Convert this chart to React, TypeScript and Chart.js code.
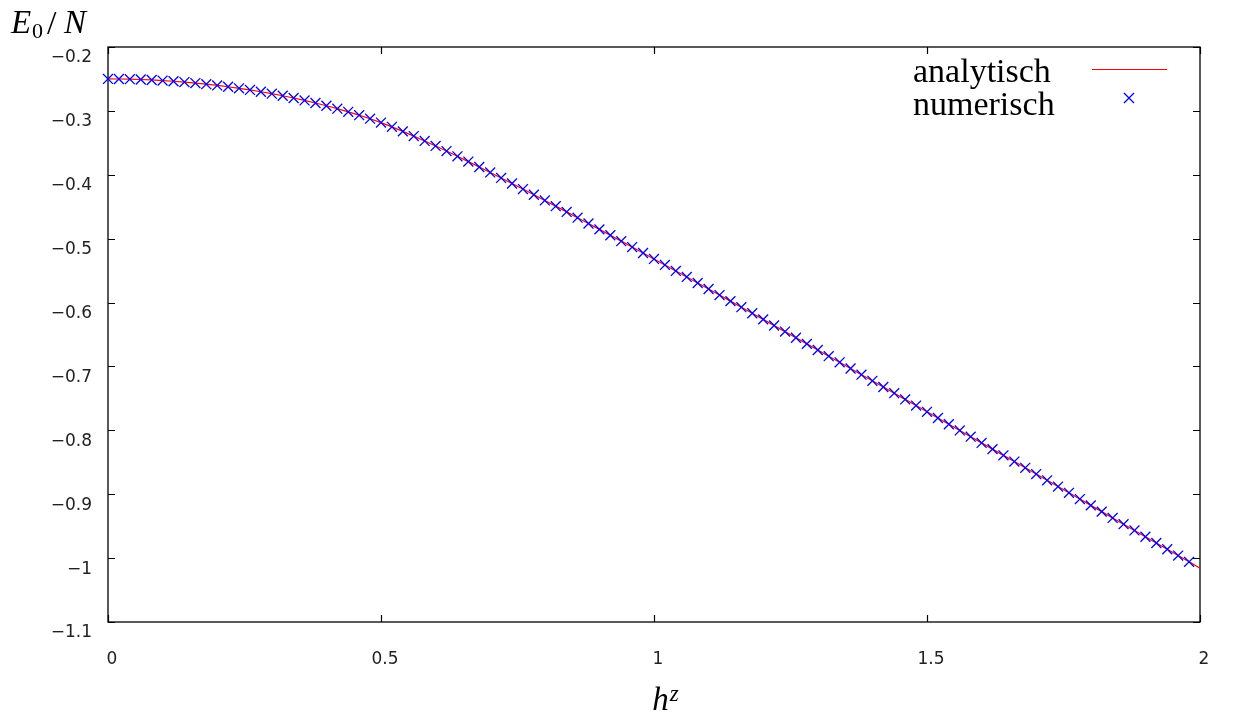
import React, { useEffect, useRef } from "react";
import { Chart, registerables } from "chart.js";

Chart.register(...registerables);

// transverse field h^z sampled in steps of 0.02
const hValues = [
  0.0, 0.02, 0.04, 0.06, 0.08, 0.1, 0.12, 0.14, 0.16, 0.18,
  0.2, 0.22, 0.24, 0.26, 0.28, 0.3, 0.32, 0.34, 0.36, 0.38,
  0.4, 0.42, 0.44, 0.46, 0.48, 0.5, 0.52, 0.54, 0.56, 0.58,
  0.6, 0.62, 0.64, 0.66, 0.68, 0.7, 0.72, 0.74, 0.76, 0.78,
  0.8, 0.82, 0.84, 0.86, 0.88, 0.9, 0.92, 0.94, 0.96, 0.98,
  1.0, 1.02, 1.04, 1.06, 1.08, 1.1, 1.12, 1.14, 1.16, 1.18,
  1.2, 1.22, 1.24, 1.26, 1.28, 1.3, 1.32, 1.34, 1.36, 1.38,
  1.4, 1.42, 1.44, 1.46, 1.48, 1.5, 1.52, 1.54, 1.56, 1.58,
  1.6, 1.62, 1.64, 1.66, 1.68, 1.7, 1.72, 1.74, 1.76, 1.78,
  1.8, 1.82, 1.84, 1.86, 1.88, 1.9, 1.92, 1.94, 1.96, 1.98,
  2.0,
];

// E0/N, analytic curve
const analyticValues = [
  -0.25, -0.2501, -0.2504, -0.2509, -0.2516, -0.25251, -0.25361, -0.25492, -0.25644, -0.25817,
  -0.2601, -0.26225, -0.26462, -0.26721, -0.27002, -0.27306, -0.27634, -0.27985, -0.28362, -0.28765,
  -0.29195, -0.29654, -0.30143, -0.30666, -0.31225, -0.31831, -0.32498, -0.33206, -0.33944, -0.34707,
  -0.3549, -0.36291, -0.37107, -0.37937, -0.38778, -0.3963, -0.40491, -0.4136, -0.42238, -0.43122,
  -0.44013, -0.44909, -0.45811, -0.46718, -0.47629, -0.48545, -0.49465, -0.50388, -0.51315, -0.52244,
  -0.53177, -0.54113, -0.55051, -0.55992, -0.56935, -0.5788, -0.58827, -0.59776, -0.60727, -0.61679,
  -0.62634, -0.6359, -0.64547, -0.65506, -0.66466, -0.67427, -0.68389, -0.69353, -0.70318, -0.71284,
  -0.72251, -0.73218, -0.74187, -0.75157, -0.76127, -0.77098, -0.7807, -0.79043, -0.80016, -0.80991,
  -0.81965, -0.82941, -0.83917, -0.84893, -0.85871, -0.86848, -0.87827, -0.88805, -0.89785, -0.90764,
  -0.91745, -0.92725, -0.93706, -0.94688, -0.9567, -0.96652, -0.97635, -0.98618, -0.99601, -1.00585,
  -1.01569,
];

// numerical results: h^z = 0 ... 1.98
const numericH = hValues.slice(0, 100);
const numericValues = analyticValues.slice(0, 100);

const seriesNames = ["analytisch", "numerisch"];
const xTickValues = [0, 0.5, 1, 1.5, 2];
const yTickValues = [-1.1, -1.0, -0.9, -0.8, -0.7, -0.6, -0.5, -0.4, -0.3, -0.2];

const LINE_COLOR = "#ff0000";
const CROSS_COLOR = "#0000ff";
const SERIF = "'Liberation Serif', 'DejaVu Serif', serif";
const TICK_FONT = "'DejaVu Sans', sans-serif";

const fmt = (v: number) => {
  const r = Math.round(v * 10) / 10;
  return (r < 0 ? "\u2212" : "") + String(Math.abs(r));
};

const decorPlugin = {
  id: "decor",
  beforeDatasetsDraw(chart: any) {
    const { ctx, chartArea: a, scales } = chart;
    ctx.save();
    ctx.strokeStyle = "#000";
    ctx.lineWidth = 1.3;
    ctx.strokeRect(a.left, a.top, a.right - a.left, a.bottom - a.top);
    const tl = 7;
    ctx.lineWidth = 1.2;
    ctx.beginPath();
    for (const v of yTickValues) {
      const y = Math.round(scales.y.getPixelForValue(v)) + 0.5;
      ctx.moveTo(a.left, y);
      ctx.lineTo(a.left + tl, y);
      ctx.moveTo(a.right, y);
      ctx.lineTo(a.right - tl, y);
    }
    for (const v of xTickValues) {
      const x = Math.round(scales.x.getPixelForValue(v)) + 0.5;
      ctx.moveTo(x, a.bottom);
      ctx.lineTo(x, a.bottom - tl);
      ctx.moveTo(x, a.top);
      ctx.lineTo(x, a.top + tl);
    }
    ctx.stroke();
    ctx.restore();
  },
  afterDraw(chart: any) {
    const { ctx, chartArea: a } = chart;
    ctx.save();
    ctx.fillStyle = "#000";
    ctx.textBaseline = "alphabetic";
    ctx.textAlign = "left";

    // y-axis title E_0 / N
    const base = 33;
    ctx.font = `italic 33px ${SERIF}`;
    ctx.fillText("E", 11, base);
    ctx.font = `22px ${SERIF}`;
    ctx.fillText("0", 32, base + 5);
    ctx.font = `34px ${SERIF}`;
    ctx.fillText("/", 47, base + 1);
    ctx.font = `italic 33px ${SERIF}`;
    ctx.fillText("N", 64, base);

    // x-axis title h^z
    const cx = (a.left + a.right) / 2 + 11;
    ctx.font = `italic 33px ${SERIF}`;
    const hw = ctx.measureText("h").width;
    ctx.font = `italic 23px ${SERIF}`;
    const zw = ctx.measureText("z").width;
    const sx = cx - (hw + zw) / 2;
    ctx.font = `italic 33px ${SERIF}`;
    ctx.fillText("h", sx, 710);
    ctx.font = `italic 23px ${SERIF}`;
    ctx.fillText("z", sx + hw + 1, 701);

    // legend
    ctx.font = `34px ${SERIF}`;
    const lx = a.right - 287;
    ctx.fillText(seriesNames[0], lx, a.top + 35);
    ctx.fillText(seriesNames[1], lx, a.top + 68);
    ctx.strokeStyle = LINE_COLOR;
    ctx.lineWidth = 1.2;
    ctx.beginPath();
    ctx.moveTo(a.right - 108, a.top + 22.5);
    ctx.lineTo(a.right - 33, a.top + 22.5);
    ctx.stroke();
    ctx.strokeStyle = CROSS_COLOR;
    ctx.lineWidth = 1.3;
    const ccx = a.right - 71;
    const ccy = a.top + 51;
    ctx.beginPath();
    ctx.moveTo(ccx - 5, ccy - 5);
    ctx.lineTo(ccx + 5, ccy + 5);
    ctx.moveTo(ccx - 5, ccy + 5);
    ctx.lineTo(ccx + 5, ccy - 5);
    ctx.stroke();
    ctx.restore();
  },
};

export default function App() {
  const canvasRef = useRef<HTMLCanvasElement | null>(null);

  useEffect(() => {
    document.body.style.margin = "0";
    const canvas = canvasRef.current;
    if (!canvas) return;
    const chart = new Chart(canvas, {
      type: "line",
      data: {
        datasets: [
          {
            label: seriesNames[1],
            data: numericH.map((h, i) => ({ x: h, y: numericValues[i] })),
            showLine: false,
            pointStyle: "crossRot",
            pointRadius: 7,
            pointHoverRadius: 7,
            pointBorderColor: CROSS_COLOR,
            pointBackgroundColor: CROSS_COLOR,
            pointBorderWidth: 1.3,
            borderColor: CROSS_COLOR,
            clip: false,
            order: 0,
          },
          {
            label: seriesNames[0],
            data: hValues.map((h, i) => ({ x: h, y: analyticValues[i] })),
            borderColor: LINE_COLOR,
            borderWidth: 1.2,
            pointRadius: 0,
            tension: 0,
            fill: false,
            order: 1,
          },
        ],
      },
      options: {
        animation: false,
        responsive: false,
        devicePixelRatio: 1,
        events: [],
        layout: { padding: { left: 0, right: 45, top: 47, bottom: 0 } },
        plugins: {
          legend: { display: false },
          tooltip: { enabled: false },
          title: { display: false },
        },
        scales: {
          x: {
            type: "linear",
            position: "bottom",
            min: 0,
            max: 2,
            grid: { display: false },
            border: { display: false },
            afterBuildTicks: (s: any) => {
              s.ticks = xTickValues.map((v) => ({ value: v }));
            },
            afterFit: (s: any) => {
              s.height = 104;
            },
            ticks: {
              autoSkip: false,
              maxRotation: 0,
              padding: 19,
              labelOffset: 4,
              color: "#222",
              font: { family: TICK_FONT, size: 17 },
              callback: (v: any) => fmt(Number(v)),
            },
          },
          y: {
            type: "linear",
            position: "left",
            min: -1.1,
            max: -0.2,
            grid: { display: false },
            border: { display: false },
            afterBuildTicks: (s: any) => {
              s.ticks = yTickValues.map((v) => ({ value: v }));
            },
            afterFit: (s: any) => {
              s.width = 108;
            },
            ticks: {
              autoSkip: false,
              padding: 8,
              labelOffset: 11,
              color: "#222",
              font: { family: TICK_FONT, size: 17 },
              callback: (v: any) => fmt(Number(v)),
            },
          },
        },
      },
      plugins: [decorPlugin],
    });
    return () => chart.destroy();
  }, []);

  return (
    <div style={{ position: "fixed", left: 0, top: 0, width: 1245, height: 726, background: "#fff" }}>
      <canvas ref={canvasRef} width={1245} height={726} style={{ width: 1245, height: 726 }} />
    </div>
  );
}
